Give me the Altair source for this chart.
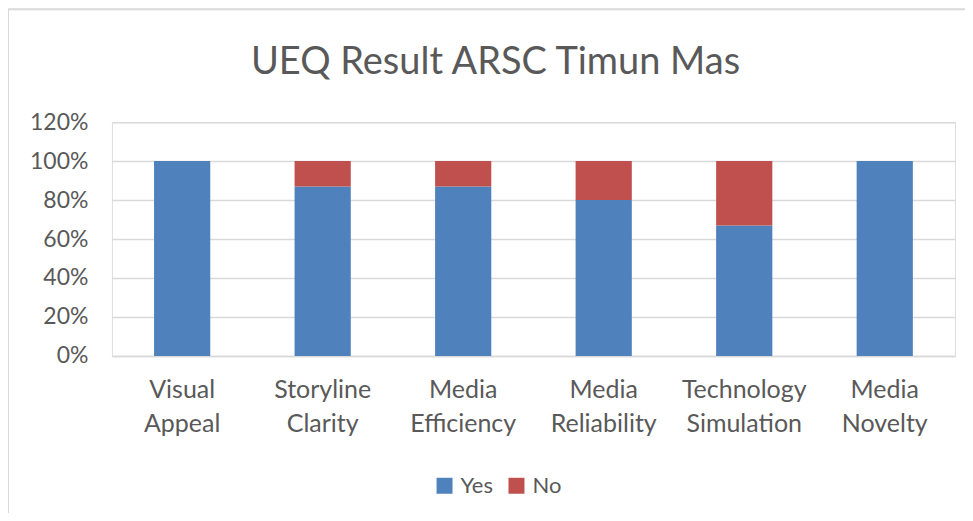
import altair as alt
import pandas as pd

categories = ["Visual Appeal", "Storyline Clarity", "Media Efficiency",
              "Media Reliability", "Technology Simulation", "Media Novelty"]
yes_values = [1.00, 0.87, 0.87, 0.80, 0.67, 1.00]
no_values = [0.00, 0.13, 0.13, 0.20, 0.33, 0.00]
series = ["Yes", "No"]
colors = ["#4F81BD", "#C0504D"]
y_ticks = [0, 0.2, 0.4, 0.6, 0.8, 1.0, 1.2]
title_text = "UEQ Result ARSC Timun Mas"

rows = []
for c, y, n in zip(categories, yes_values, no_values):
    rows.append({"category": c, "series": "Yes", "value": y, "order": 0})
    rows.append({"category": c, "series": "No", "value": n, "order": 1})
df = pd.DataFrame(rows)

FONT = "Lato"
TXT = "#595959"
GRID = "#D9D9D9"

bars = alt.Chart(df).mark_bar().encode(
    x=alt.X("category:N", sort=categories, title=None,
            scale=alt.Scale(paddingInner=0.6, paddingOuter=0.3),
            axis=alt.Axis(labelAngle=0, labelExpr="split(datum.label, ' ')",
                          labelFontSize=25, labelColor=TXT, labelFont=FONT,
                          labelLineHeight=34, labelPadding=22, ticks=False,
                          domainColor=GRID, domainWidth=1.5, labelBaseline="top")),
    y=alt.Y("value:Q", stack="zero", title=None,
            scale=alt.Scale(domain=[0, 1.2], nice=False),
            axis=alt.Axis(values=y_ticks, format=".0%", labelFontSize=23,
                          labelColor=TXT, labelFont=FONT, labelPadding=24,
                          ticks=False, domain=False, gridColor=GRID,
                          gridWidth=1.5)),
    color=alt.Color("series:N", sort=series,
                    scale=alt.Scale(domain=series, range=colors),
                    legend=alt.Legend(title=None, orient="none", direction="horizontal",
                                      legendX=322, legendY=353,
                                      symbolType="square", symbolSize=256,
                                      symbolStrokeWidth=0, labelFontSize=22,
                                      labelFont=FONT, labelColor=TXT,
                                      labelOffset=5, columnPadding=12)),
    order=alt.Order("order:Q"),
)

one = pd.DataFrame({"k": [0]})
title_mark = alt.Chart(one).mark_text(
    font=FONT, fontSize=38, color=TXT, align="center", baseline="alphabetic"
).encode(x=alt.value(384), y=alt.value(-48), text=alt.value(title_text))
top_line = alt.Chart(one).mark_rule(color=GRID, strokeWidth=2).encode(
    x=alt.value(-104), x2=alt.value(900), y=alt.value(-113))
left_line = alt.Chart(one).mark_rule(color=GRID, strokeWidth=2).encode(
    x=alt.value(-104), y=alt.value(-113), y2=alt.value(420))

chart = alt.layer(bars, title_mark, top_line, left_line).properties(
    width=844, height=234,
    padding={"left": 104, "top": 114, "right": 10, "bottom": 157},
    autosize=alt.AutoSizeParams(type="none"),
).configure_view(stroke=None).configure(background="white")

chart.save("out.html", embed_options={"renderer": "svg", "actions": False})
